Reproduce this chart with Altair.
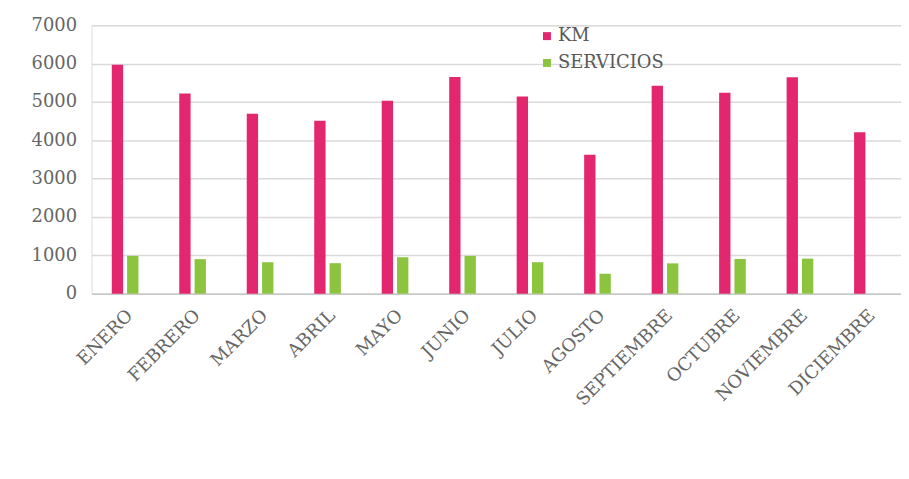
import altair as alt
import pandas as pd

months = ["ENERO", "FEBRERO", "MARZO", "ABRIL", "MAYO", "JUNIO", "JULIO",
          "AGOSTO", "SEPTIEMBRE", "OCTUBRE", "NOVIEMBRE", "DICIEMBRE"]
km = [5970, 5220, 4690, 4510, 5030, 5650, 5140, 3620, 5420, 5240, 5640, 4210]
servicios = [985, 900, 820, 795, 950, 985, 820, 520, 790, 905, 915, 0]
series = ["KM", "SERVICIOS"]
colors = ["#E2276E", "#8CC43F"]

rows = []
for m, k, s in zip(months, km, servicios):
    rows.append({"mes": m, "serie": "KM", "valor": k})
    rows.append({"mes": m, "serie": "SERVICIOS", "valor": s})
df = pd.DataFrame(rows)

FONT = "DejaVu Serif"
TXT = "#666666"

chart = alt.Chart(df).mark_bar().encode(
    x=alt.X("mes:N", sort=months, title=None,
            scale=alt.Scale(paddingInner=0.605, paddingOuter=0.3),
            axis=alt.Axis(labelAngle=-45, labelAlign="right", labelBaseline="middle",
                          labelPadding=19, labelOffset=5, ticks=False,
                          domainColor="#C8C8C8", domainWidth=1.5,
                          labelFont=FONT, labelFontSize=18, labelColor=TXT,
                          grid=False)),
    xOffset=alt.XOffset("serie:N", sort=series,
                        scale=alt.Scale(paddingInner=0.26, paddingOuter=0)),
    y=alt.Y("valor:Q", title=None,
            scale=alt.Scale(domain=[0, 7000], nice=False),
            axis=alt.Axis(values=[0, 1000, 2000, 3000, 4000, 5000, 6000, 7000],
                          format="d", domain=False, ticks=False,
                          labelPadding=15, labelFont=FONT, labelFontSize=18,
                          labelColor=TXT, gridColor="#DADADA", gridWidth=1.5)),
    color=alt.Color("serie:N", sort=series,
                    scale=alt.Scale(domain=series, range=colors),
                    legend=alt.Legend(title=None, orient="none", legendX=449, legendY=2,
                                      symbolType="square", symbolSize=64,
                                      symbolStrokeWidth=0, labelOffset=2,
                                      rowPadding=9, labelFont=FONT, labelFontSize=18,
                                      labelColor="#595959")),
).properties(
    width=814, height=270,
    autosize=alt.AutoSizeParams(type="none"),
    padding={"left": 84, "top": 16, "right": 0, "bottom": 170},
).configure_view(stroke=None).configure(background="white")

chart.save("out.html", embed_options={"renderer": "svg", "actions": False})
